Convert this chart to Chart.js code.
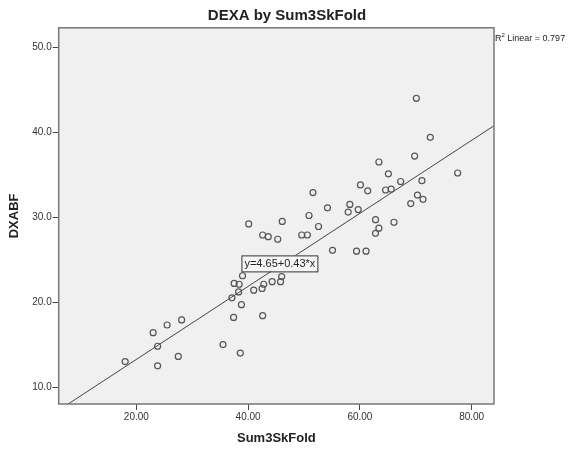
<!DOCTYPE html>
<html>
<head>
<meta charset="utf-8">
<title>DEXA by Sum3SkFold</title>
<script src="https://cdn.jsdelivr.net/npm/chart.js@4.4.1/dist/chart.umd.min.js"></script>
<style>
    html, body { margin: 0; padding: 0; background: #ffffff; }
    #wrap { width: 574px; height: 450px; }
</style>
</head>
<body>
<div id="wrap"><canvas id="dexaChart" width="574" height="450"></canvas></div>
<script>
/* ============================================
   DEXA by Sum3SkFold - scatter with linear fit
   ============================================ */

// Sum3SkFold (x) and DXABF (y)
const sumSkinfold = [
    18.0, 23.0, 23.8, 23.8, 25.5, 27.5, 28.1, 35.5, 38.6, 37.4,
    42.6, 38.8, 37.1, 38.3, 37.5, 38.4, 39.0, 41.0, 42.5, 42.8,
    44.3, 45.8, 46.0, 40.1, 46.1, 42.6, 43.6, 45.3, 49.6, 50.6,
    50.9, 52.6, 51.6, 54.2, 55.1, 59.4, 61.1, 58.2, 57.9, 59.7,
    60.1, 61.4, 62.8, 63.4, 62.8, 63.4, 64.6, 65.6, 65.1, 66.1,
    67.3, 69.1, 70.3, 71.3, 71.1, 69.8, 70.1, 72.6, 77.5
];
const dxabf = [
    13.0, 16.4, 14.8, 12.5, 17.3, 13.6, 17.9, 15.0, 14.0, 18.2,
    18.4, 19.7, 20.5, 21.2, 22.2, 22.1, 23.1, 21.4, 21.6, 22.1,
    22.4, 22.4, 23.0, 29.2, 29.5, 27.9, 27.7, 27.4, 27.9, 27.9,
    30.2, 28.9, 32.9, 31.1, 26.1, 26.0, 26.0, 31.5, 30.6, 30.9,
    33.8, 33.1, 29.7, 28.7, 28.1, 36.5, 33.2, 33.3, 35.1, 29.4,
    34.2, 31.6, 32.6, 32.1, 34.3, 37.2, 44.0, 39.4, 35.2
];

// Fit shown on the chart: y = 4.65 + 0.43*x, R2 = 0.797
const fitIntercept = 4.65;
const fitSlope = 0.43;
const fitLabel = 'y=4.65+0.43*x';
const rSquared = '0.797';

// Axis ranges and tick labels
const xRange = [6.1, 84.0];
const yRange = [8.0, 52.3];
const xTicks = [20, 40, 60, 80];
const yTicks = [10, 20, 30, 40, 50];

const chartTitle = 'DEXA by Sum3SkFold';
const FONT = "'Liberation Sans', Arial, sans-serif";

/**
 * Plot area background, frame and page title
 */
const plotFrame = {
    id: 'plotFrame',
    beforeDatasetsDraw(chart) {
        const { ctx, chartArea: a } = chart;
        ctx.save();
        ctx.fillStyle = '#f0f0f0';
        ctx.fillRect(a.left, a.top, a.right - a.left, a.bottom - a.top);
        ctx.restore();
    },
    afterDraw(chart) {
        const { ctx, chartArea: a, width } = chart;
        ctx.save();
        ctx.strokeStyle = '#777777';
        ctx.lineWidth = 1.5;
        ctx.strokeRect(a.left, a.top, a.right - a.left, a.bottom - a.top);

        // title is centred on the whole page, not on the plot
        ctx.fillStyle = '#222222';
        ctx.font = 'bold 15px ' + FONT;
        ctx.textAlign = 'center';
        ctx.textBaseline = 'middle';
        ctx.fillText(chartTitle, width / 2, 16);
        ctx.restore();
    }
};

/**
 * Equation box and R2 label
 */
const fitLabels = {
    id: 'fitLabels',
    afterDatasetsDraw(chart) {
        const { ctx, chartArea: a, scales } = chart;
        ctx.save();

        // equation box, anchored in data space
        const bx = scales.x.getPixelForValue(38.8);
        const by = scales.y.getPixelForValue(25.5);
        ctx.font = '11px ' + FONT;
        const w = ctx.measureText(fitLabel).width + 5;
        ctx.fillStyle = '#f6f6f6';
        ctx.fillRect(bx, by, w, 16);
        ctx.strokeStyle = '#333333';
        ctx.lineWidth = 1;
        ctx.strokeRect(bx + 0.5, by + 0.5, w, 16);
        ctx.fillStyle = '#222222';
        ctx.textBaseline = 'middle';
        ctx.fillText(fitLabel, bx + 3, by + 8.5);

        // R2 label to the right of the frame
        let x = a.right + 1;
        const y = a.top + 13;
        ctx.textBaseline = 'alphabetic';
        ctx.font = '9px ' + FONT;
        ctx.fillText('R', x, y);
        x += ctx.measureText('R').width;
        ctx.font = '6px ' + FONT;
        ctx.fillText('2', x, y - 4);
        x += ctx.measureText('2').width;
        ctx.font = '9px ' + FONT;
        ctx.fillText(' Linear = ' + rSquared, x, y);

        ctx.restore();
    }
};

function initDexaChart() {
    const canvas = document.getElementById('dexaChart');
    if (!canvas) return;

    const points = sumSkinfold.map((x, i) => ({ x: x, y: dxabf[i] }));
    const fitLine = xRange.map(x => ({ x: x, y: fitIntercept + fitSlope * x }));

    new Chart(canvas.getContext('2d'), {
        type: 'scatter',
        data: {
            datasets: [
                {
                    label: 'DXABF',
                    data: points,
                    pointStyle: 'circle',
                    pointRadius: 3,
                    pointBackgroundColor: 'rgba(0,0,0,0)',
                    pointBorderColor: '#555555',
                    pointBorderWidth: 1.2,
                    order: 1
                },
                {
                    type: 'line',
                    label: 'Linear',
                    data: fitLine,
                    borderColor: '#444444',
                    borderWidth: 1,
                    pointRadius: 0,
                    fill: false,
                    order: 2
                }
            ]
        },
        options: {
            responsive: false,
            animation: false,
            layout: { padding: { left: 0, right: 80, top: 27.8, bottom: 0 } },
            plugins: {
                legend: { display: false },
                tooltip: { enabled: false },
                title: { display: false }
            },
            scales: {
                x: {
                    type: 'linear',
                    min: xRange[0],
                    max: xRange[1],
                    afterBuildTicks: s => { s.ticks = xTicks.map(v => ({ value: v })); },
                    afterFit: s => { s.height = 46; },
                    grid: { drawOnChartArea: false, drawTicks: true, tickLength: 6, tickColor: '#444444' },
                    border: { display: false },
                    ticks: {
                        color: '#333333',
                        font: { family: FONT, size: 10 },
                        padding: 1,
                        maxRotation: 0,
                        callback: v => v.toFixed(2)
                    },
                    title: {
                        display: true,
                        text: 'Sum3SkFold',
                        color: '#222222',
                        font: { family: FONT, size: 13, weight: 'bold' },
                        padding: { top: 0, bottom: 4 }
                    }
                },
                y: {
                    type: 'linear',
                    min: yRange[0],
                    max: yRange[1],
                    afterBuildTicks: s => { s.ticks = yTicks.map(v => ({ value: v })); },
                    afterFit: s => { s.width = 58.7; },
                    grid: { drawOnChartArea: false, drawTicks: true, tickLength: 6, tickColor: '#444444' },
                    border: { display: false },
                    ticks: {
                        color: '#333333',
                        font: { family: FONT, size: 10 },
                        padding: 1,
                        callback: v => v.toFixed(1)
                    },
                    title: {
                        display: true,
                        text: 'DXABF',
                        color: '#222222',
                        font: { family: FONT, size: 13, weight: 'bold' },
                        padding: { top: 7, bottom: 0 }
                    }
                }
            }
        },
        plugins: [plotFrame, fitLabels]
    });
}

initDexaChart();
</script>
</body>
</html>
